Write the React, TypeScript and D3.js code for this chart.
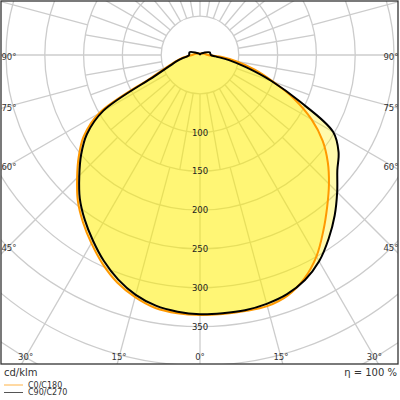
import * as d3 from 'd3';

// luminous intensity in cd/klm, gamma measured from the downward axis
const gammaAngles = [0, 5, 10, 15, 20, 25, 30, 35, 40, 45, 50, 55, 60, 65, 70, 75, 80, 85, 90, 105, 120, 135, 150, 165, 180];
const c0Values = [335, 335, 335, 335, 330, 318, 300, 277, 255, 235, 215, 193, 166, 134, 100, 73, 48, 27, 10, 6, 4, 3, 2, 1, 1];
const c180Values = [335, 334, 331, 323, 312, 297, 280, 263, 245, 224, 204, 183, 150, 70, 45, 33, 24, 15, 10, 6, 4, 3, 2, 1, 1];
const c90Values = [334, 334, 334, 332, 328, 320, 307, 289, 270, 250, 231, 218, 198, 142, 98, 62, 38, 20, 14, 13, 6, 3, 2, 1, 1];
const c270Values = [334, 332, 328, 320, 308, 293, 276, 259, 241, 220, 200, 178, 144, 65, 42, 31, 22, 16, 14, 14, 6, 3, 2, 1, 1];

const ringValues = [50, 100, 150, 200, 250, 300, 350, 400, 450, 500];
const ringLabels = [100, 150, 200, 250, 300, 350];
const sideLabelAngles = [90, 75, 60, 45];
const bottomLabelAngles = [30, 15, 0];

const legendItems = [
  { name: 'C0/C180', color: '#ffb347' },
  { name: 'C90/C270', color: '#555555' },
];

const W = 400;
const frame = { x: 1, y: 1, w: 397, h: 363 };
const cx = 200;
const cy = 55;
const FONT = 'DejaVu Sans, sans-serif';

const rScale = d3.scaleLinear().domain([0, 50]).range([0, 38.8]);
const rad = (deg: number) => (deg * Math.PI) / 180;

function pointAt(gammaDeg: number, r: number): [number, number] {
  const g = rad(gammaDeg);
  return [cx + r * Math.sin(g), cy + r * Math.cos(g)];
}

// left half (C180 / C270) runs from straight up down to nadir, then the right half back up
function outline(left: number[], right: number[]) {
  const pts: [number, number][] = [];
  for (let i = gammaAngles.length - 1; i >= 0; i--) {
    pts.push([Math.PI + rad(gammaAngles[i]), rScale(left[i])]);
  }
  for (let i = 1; i < gammaAngles.length - 1; i++) {
    pts.push([Math.PI - rad(gammaAngles[i]), rScale(right[i])]);
  }
  return d3.lineRadial().curve(d3.curveCatmullRomClosed.alpha(0.5))(pts) || '';
}

export default function App() {
  const orangePath = outline(c180Values, c0Values);
  const blackPath = outline(c270Values, c90Values);

  const innerSpokes = d3.range(0, 360, 10);
  const outerSpokes = d3.range(0, 360, 15);

  return (
    <svg
      width={W}
      height={W}
      style={{ position: 'absolute', left: 0, top: 0, background: '#fff' }}
      fontFamily={FONT}
    >
      <defs>
        <clipPath id="plot-clip">
          <rect x={frame.x} y={frame.y} width={frame.w} height={frame.h} />
        </clipPath>
      </defs>

      <g clipPath="url(#plot-clip)">
        {/* Grid */}
        <g stroke="#cccccc" strokeWidth={1.3} fill="none">
          {ringValues.map(v => (
            <circle key={v} cx={cx} cy={cy} r={rScale(v)} />
          ))}
          {innerSpokes.map(a => {
            const [x1, y1] = pointAt(a, rScale(50));
            const [x2, y2] = pointAt(a, rScale(150));
            return <line key={'i' + a} x1={x1} y1={y1} x2={x2} y2={y2} />;
          })}
          {outerSpokes.map(a => {
            const [x1, y1] = pointAt(a, rScale(150));
            const [x2, y2] = pointAt(a, rScale(700));
            return <line key={'o' + a} x1={x1} y1={y1} x2={x2} y2={y2} />;
          })}
        </g>

        {/* Distributions */}
        <g transform={`translate(${cx},${cy})`}>
          <path d={orangePath} fill="#fff000" fillOpacity={0.32} stroke="none" />
          <path d={blackPath} fill="#fff000" fillOpacity={0.32} stroke="none" />
          <path d={orangePath} fill="none" stroke="#ff9900" strokeWidth={2} strokeLinejoin="round" />
          <path d={blackPath} fill="none" stroke="#000" strokeWidth={2} strokeLinejoin="round" />
        </g>

        {/* Ring labels */}
        {ringLabels.map(v => (
          <text
            key={v}
            x={cx}
            y={cy + rScale(v)}
            textAnchor="middle"
            dominantBaseline="central"
            fontSize={8.5}
            fill="#222"
          >
            {v}
          </text>
        ))}

        {/* Angle labels on the sides */}
        {sideLabelAngles.map(a => {
          const dx = cx - 9;
          const y = a === 90 ? cy : cy + dx / Math.tan(rad(a));
          return (
            <g key={'s' + a} fontSize={8.5} fill="#333" textAnchor="middle" dominantBaseline="central">
              <text x={9} y={y + 2}>{a}°</text>
              <text x={W - 9} y={y + 2}>{a}°</text>
            </g>
          );
        })}

        {/* Angle labels at the bottom */}
        {bottomLabelAngles.map(a => {
          const dy = 357 - cy;
          const dx = dy * Math.tan(rad(a));
          return (
            <g key={'b' + a} fontSize={8.5} fill="#333" textAnchor="middle" dominantBaseline="central">
              <text x={cx - dx} y={357}>{a}°</text>
              {a !== 0 && <text x={cx + dx} y={357}>{a}°</text>}
            </g>
          );
        })}
      </g>

      <rect
        x={frame.x}
        y={frame.y}
        width={frame.w}
        height={frame.h}
        fill="none"
        stroke="#333"
        strokeWidth={1.3}
      />

      <text x={4} y={376} fontSize={10} fill="#333">cd/klm</text>
      <text x={397} y={376} fontSize={10} fill="#333" textAnchor="end">η = 100 %</text>

      {legendItems.map((d, i) => (
        <g key={d.name} transform={`translate(4, ${385 + i * 7.5})`}>
          <line x1={0} x2={19} y1={0} y2={0} stroke={d.color} strokeWidth={1} />
          <text x={24} y={0} fontSize={8} fill="#333" dominantBaseline="central">{d.name}</text>
        </g>
      ))}
    </svg>
  );
}
